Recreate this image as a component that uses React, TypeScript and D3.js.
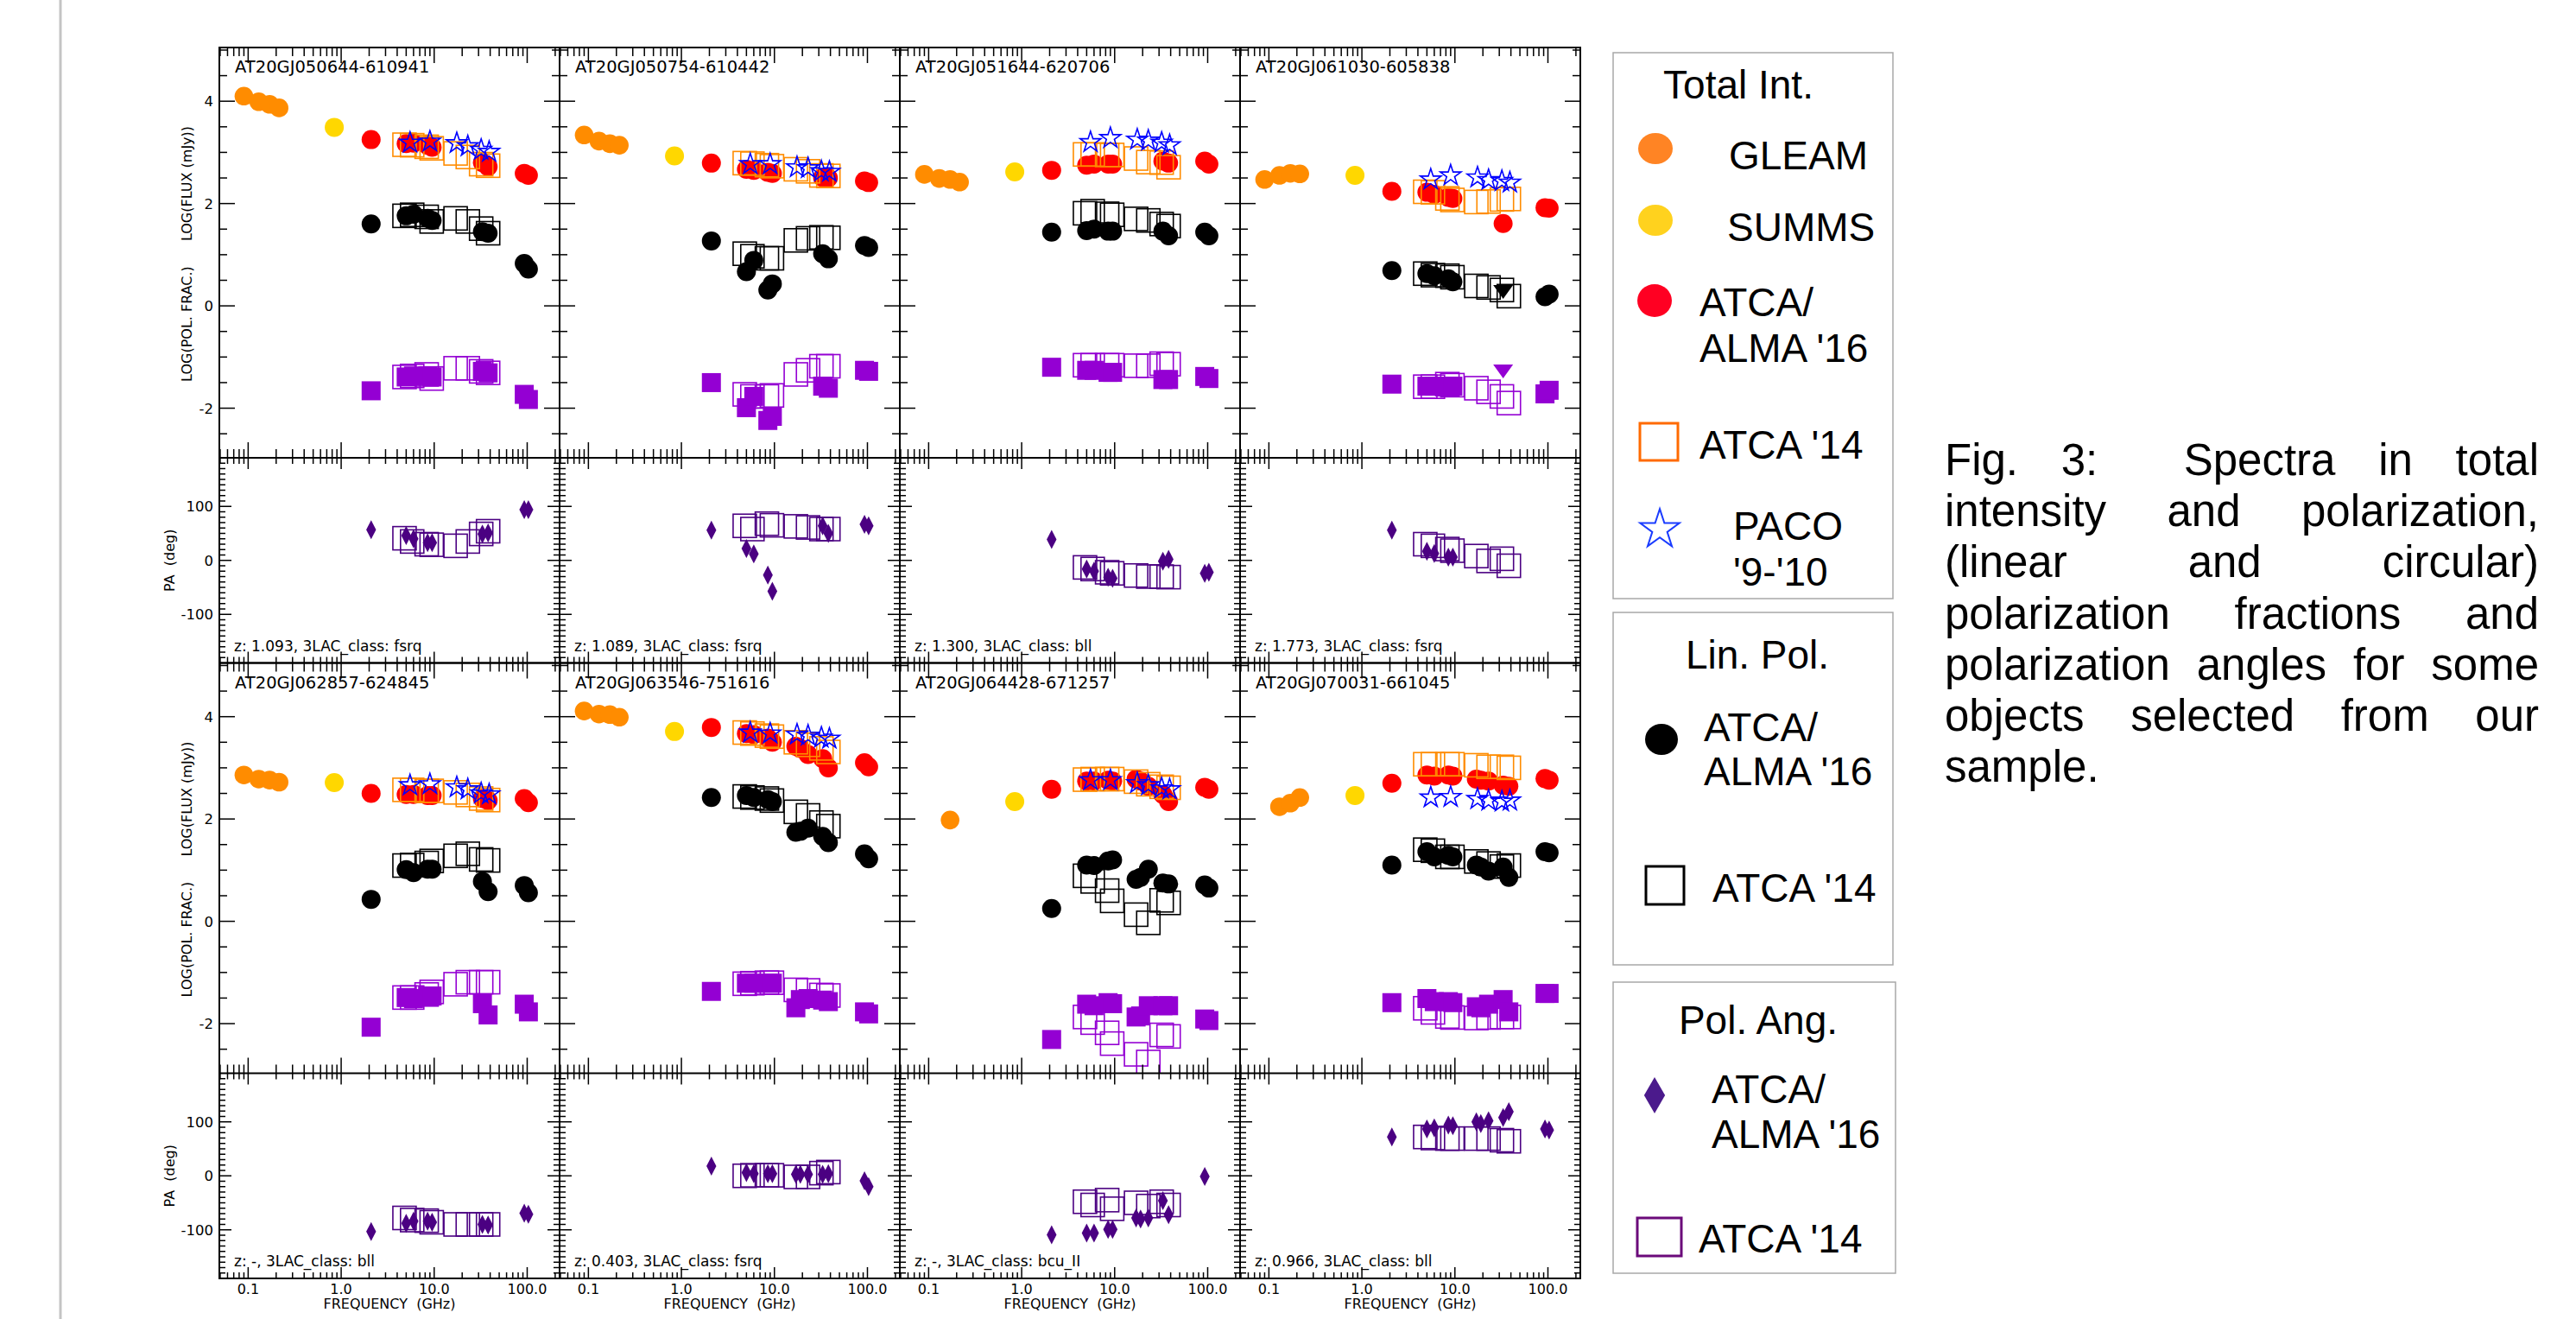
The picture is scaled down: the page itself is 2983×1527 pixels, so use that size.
import React from "react";
import * as d3 from "d3";

const W = 2983, H = 1527;

// ---------- DATA ----------
const sources = [
  "AT20GJ050644-610941", "AT20GJ050754-610442", "AT20GJ051644-620706", "AT20GJ061030-605838",
  "AT20GJ062857-624845", "AT20GJ063546-751616", "AT20GJ064428-671257", "AT20GJ070031-661045",
];
const infoLines = [
  "z: 1.093, 3LAC_class: fsrq", "z: 1.089, 3LAC_class: fsrq", "z: 1.300, 3LAC_class: bll", "z: 1.773, 3LAC_class: fsrq",
  "z: -, 3LAC_class: bll", "z: 0.403, 3LAC_class: fsrq", "z: -, 3LAC_class: bcu_II", "z: 0.966, 3LAC_class: bll",
];

// frequencies (GHz)
const fGLEAM = [0.09, 0.13, 0.17, 0.215];
const fSUMMS = 0.843;
const fATCA16 = [2.1, 5.0, 6.0, 8.5, 9.5, 17, 19, 23, 33, 38, 93, 103];
const fATCA14 = [4.8, 5.8, 8.3, 9.4, 17, 23, 32, 38];
const fPACO = [5.5, 9.0, 17.5, 23, 32, 39];
const fLimit = 33;

const N = null;
// total intensity, log(mJy)
const gleam = [
  [4.10, 3.99, 3.94, 3.87], [3.34, 3.22, 3.17, 3.14], [2.57, 2.49, 2.47, 2.42], [2.47, 2.55, 2.59, 2.58],
  [2.86, 2.78, 2.76, 2.72], [4.11, 4.05, 4.04, 3.99], [N, N, 1.98, N], [N, 2.24, 2.31, 2.42],
];
const summs = [3.49, 2.93, 2.62, 2.55, 2.71, 3.71, 2.34, 2.46];
const flux16 = [
  [3.25, 3.17, 3.18, 3.14, 3.10, N, N, N, 2.80, 2.72, 2.59, 2.55],
  [2.79, 2.67, 2.65, 2.61, 2.59, N, N, N, 2.51, 2.50, 2.44, 2.41],
  [2.65, 2.75, 2.77, 2.77, 2.77, N, N, N, 2.83, 2.79, 2.83, 2.77],
  [2.24, 2.22, 2.18, 2.12, 2.10, N, N, N, 1.61, N, 1.92, 1.91],
  [2.50, 2.48, 2.48, 2.46, 2.46, N, N, N, 2.40, 2.36, 2.40, 2.32],
  [3.79, 3.67, 3.65, 3.58, 3.50, 3.42, 3.38, 3.26, 3.18, 3.00, 3.10, 3.02],
  [2.58, 2.74, 2.74, 2.76, 2.74, 2.78, 2.74, 2.64, 2.48, 2.34, 2.62, 2.58],
  [2.70, 2.86, 2.84, 2.86, 2.84, 2.78, 2.76, 2.74, 2.66, 2.64, 2.79, 2.76],
];
const flux14 = [
  [3.15, 3.14, 3.11, 3.08, 2.98, 2.91, 2.77, 2.74],
  [2.79, 2.78, 2.75, 2.73, 2.67, 2.63, 2.55, 2.54],
  [2.96, 2.96, 2.95, 2.95, 2.88, 2.81, 2.80, 2.71],
  [2.23, 2.22, 2.10, 2.07, 2.03, 2.04, 2.08, 2.09],
  [2.57, 2.57, 2.55, 2.55, 2.52, 2.47, 2.40, 2.37],
  [3.69, 3.67, 3.63, 3.61, 3.50, 3.45, 3.38, 3.31],
  [2.77, 2.78, 2.78, 2.78, 2.73, 2.68, 2.63, 2.61],
  [3.07, 3.07, 3.07, 3.07, 3.05, 3.02, 3.02, 3.00],
];
const paco = [
  [3.19, 3.21, 3.18, 3.12, 3.05, 3.01],
  [2.77, 2.77, 2.71, 2.69, 2.63, 2.62],
  [3.20, 3.28, 3.25, 3.23, 3.19, 3.14],
  [2.47, 2.55, 2.51, 2.46, 2.44, 2.41],
  [2.66, 2.68, 2.62, 2.58, 2.50, 2.48],
  [3.69, 3.67, 3.65, 3.63, 3.59, 3.57],
  [2.76, 2.76, 2.70, 2.66, 2.60, 2.58],
  [2.42, 2.43, 2.39, 2.36, 2.34, 2.36],
];
// linear polarization fraction (log)
const lin16 = [
  [1.60, 1.76, 1.79, 1.71, 1.67, N, N, N, 1.45, 1.42, 0.83, 0.72],
  [1.27, 0.67, 0.89, 0.31, 0.43, N, N, N, 1.02, 0.92, 1.18, 1.14],
  [1.44, 1.47, 1.50, 1.46, 1.46, N, N, N, 1.46, 1.37, 1.44, 1.37],
  [0.69, 0.63, 0.59, 0.53, 0.47, N, N, N, N, N, 0.18, 0.23],
  [0.43, 1.01, 0.95, 1.02, 1.02, N, N, N, 0.78, 0.58, 0.70, 0.56],
  [2.42, 2.46, 2.42, 2.38, 2.34, 1.74, 1.76, 1.82, 1.66, 1.54, 1.32, 1.22],
  [0.25, 1.10, 1.09, 1.18, 1.20, 0.82, 0.86, 1.02, 0.75, 0.73, 0.71, 0.65],
  [1.10, 1.36, 1.26, 1.29, 1.26, 1.10, 1.06, 0.98, 1.06, 0.86, 1.36, 1.34],
];
const lin14 = [
  [1.76, 1.78, 1.74, 1.65, 1.71, 1.65, 1.51, 1.42],
  [1.02, 0.97, 0.93, 0.93, 1.28, 1.32, 1.34, 1.33],
  [1.81, 1.85, 1.80, 1.78, 1.70, 1.67, 1.60, 1.56],
  [0.63, 0.60, 0.59, 0.56, 0.39, 0.36, 0.31, 0.19],
  [1.09, 1.10, 1.14, 1.18, 1.28, 1.32, 1.21, 1.19],
  [2.44, 2.42, 2.40, 2.36, 2.14, 2.07, 1.93, 1.86],
  [0.89, 0.78, 0.60, 0.40, 0.13, -0.03, 0.41, 0.36],
  [1.40, 1.38, 1.26, 1.26, 1.17, 1.13, 1.07, 1.09],
];
// circular polarization fraction (log)
const circ16 = [
  [-1.66, -1.39, -1.37, -1.37, -1.39, N, N, N, -1.28, -1.31, -1.73, -1.83],
  [-1.50, -1.99, -1.77, -2.24, -2.16, N, N, N, -1.57, -1.61, -1.26, -1.28],
  [-1.20, -1.26, -1.26, -1.30, -1.30, N, N, N, -1.44, -1.44, -1.38, -1.42],
  [-1.53, -1.57, -1.57, -1.57, -1.57, N, N, N, N, N, -1.72, -1.65],
  [-2.07, -1.49, -1.51, -1.46, -1.46, N, N, N, -1.61, -1.83, -1.62, -1.77],
  [-1.37, -1.21, -1.21, -1.21, -1.21, -1.69, -1.53, -1.51, -1.54, -1.57, -1.77, -1.81],
  [-2.31, -1.62, -1.65, -1.59, -1.61, -1.87, -1.85, -1.65, -1.65, -1.65, -1.91, -1.94],
  [-1.59, -1.51, -1.57, -1.57, -1.59, -1.67, -1.69, -1.62, -1.53, -1.77, -1.41, -1.41],
];
const circ14 = [
  [-1.39, -1.37, -1.34, -1.42, -1.22, -1.22, -1.28, -1.31],
  [-1.73, -1.77, -1.77, -1.75, -1.34, -1.26, -1.18, -1.18],
  [-1.16, -1.16, -1.16, -1.16, -1.17, -1.17, -1.13, -1.14],
  [-1.58, -1.58, -1.53, -1.55, -1.61, -1.68, -1.77, -1.90],
  [-1.49, -1.49, -1.43, -1.38, -1.23, -1.19, -1.19, -1.19],
  [-1.22, -1.21, -1.20, -1.20, -1.34, -1.35, -1.44, -1.45],
  [-1.87, -1.98, -2.18, -2.39, -2.60, -2.75, -2.22, -2.25],
  [-1.70, -1.78, -1.86, -1.88, -1.89, -1.88, -1.87, -1.87],
];
// upper limits (one per panel, at fLimit)
const linLimit = [N, N, N, 0.27, N, N, N, N];
const circLimit = [N, N, N, -1.28, N, N, N, N];
// polarization angle (deg)
const pa16 = [
  [57, 46, 40, 33, 33, N, N, N, 49, 51, 94, 94],
  [56, 22, 12, -27, -57, N, N, N, 64, 50, 67, 64],
  [39, -16, -20, -31, -33, N, N, N, -1.5, 2, -24, -22],
  [56, 17, 13, 6, 6, N, N, N, N, N, N, N],
  [-103, -88, -84, -84, -86, N, N, N, -90, -91, -69, -71],
  [18, 6, 4, 4, 4, 3, 3, 3, 3, 4, -9, -20],
  [-109, -106, -106, -99, -99, -78, -80, -78, -46, -72, -1, N],
  [72, 87, 89, 94, 93, 100, 97, 102, 108, 119, 87, 85],
];
const pa14 = [
  [41, 35, 30, 29, 27, 35, 49, 54],
  [64, 58, 68, 65, 63, 61, 58, 58],
  [-13, -16, -22, -24, -28, -30, -30, -31],
  [30, 27, 21, 18, 8, -1, 3, -10],
  [-78, -82, -83, -86, -90, -90, -90, -90],
  [0, 1, 1, 1, -2, -2, 5, 7],
  [-48, -54, -45, -61, -50, -56, -48, -54],
  [72, 70, 69, 69, 69, 69, 66, 64],
];

// axes
const xDomain = [0.049, 223];
const fluxDomain = [-2.97, 5.05];
const paDomain = [-190, 190];
const xLabelVals = [0.1, 1, 10, 100];
const xLabelText = ["0.1", "1.0", "10.0", "100.0"];
const fluxLabelVals = [-2, 0, 2, 4];
const paLabelVals = [-100, 0, 100];

const captionLines = [
  "Fig. 3:  Spectra in total",
  "intensity and polarization,",
  "(linear and circular)",
  "polarization fractions and",
  "polarization angles for some",
  "objects selected from our",
  "sample.",
];

// ---------- LAYOUT ----------
const X0 = 254, COL_W = 394;
const Y0 = 55, FLUX_H = 475, PA_H = 237.5, ROW_H = FLUX_H + PA_H;
const FONT = "'DejaVu Sans', sans-serif";
const SANS = "'Liberation Sans', Arial, sans-serif";

const C = {
  gleam: "#ff8c00", summs: "#ffd700", red: "#ff0000", orange: "#ff8c00", blue: "#0000ff",
  purple: "#9400d3", pa: "#4b0082",
};

type P = [number, number];
const pts = (fs: number[], vs: (number | null)[]): P[] =>
  fs.map((f, i) => [f, vs[i]] as [number, number | null]).filter((d) => d[1] != null) as P[];

const starPath = d3.symbol(d3.symbolStar, 180)() as string;
const diamondPath = "M0,-11L5.7,0L0,11L-5.7,0Z";
const triPath = "M-11.5,-8L11.5,-8L0,8Z";

function Panel({ idx }: { idx: number }) {
  const c = idx % 4, r = Math.floor(idx / 4);
  const x0 = X0 + c * COL_W, x1 = x0 + COL_W;
  const yTop = Y0 + r * ROW_H, yMid = yTop + FLUX_H, yBot = yMid + PA_H;
  const x = d3.scaleLog().domain(xDomain).range([x0, x1]);
  const yF = d3.scaleLinear().domain(fluxDomain).range([yMid, yTop]);
  const yP = d3.scaleLinear().domain(paDomain).range([yBot, yMid]);

  const xt = x.ticks().filter((v) => v >= xDomain[0] && v <= xDomain[1]);
  const isMajorX = (v: number) => Math.abs(Math.log10(v) - Math.round(Math.log10(v))) < 1e-9;
  const fluxTicks = d3.range(-2.5, 5.01, 0.5).filter((v) => v >= fluxDomain[0] && v <= fluxDomain[1]);
  const paTicks = d3.range(-180, 181, 10);

  const ticks: React.ReactNode[] = [];
  const L = (k: string, a: number, b: number, cc: number, d: number) =>
    ticks.push(<line key={k} x1={a} y1={b} x2={cc} y2={d} />);
  xt.forEach((v, i) => {
    const px = x(v), maj = isMajorX(v);
    const fl = maj ? 18 : 10, pl = maj ? 13 : 7;
    L(`ft${i}`, px, yTop, px, yTop + fl);
    L(`fb${i}`, px, yMid, px, yMid - fl);
    L(`pt${i}`, px, yMid, px, yMid + pl);
    L(`pb${i}`, px, yBot, px, yBot - pl);
  });
  fluxTicks.forEach((v, i) => {
    const py = yF(v), maj = fluxLabelVals.includes(v);
    const l = maj ? 18 : 9;
    L(`fl${i}`, x0, py, x0 + l, py);
    L(`fr${i}`, x1, py, x1 - l, py);
  });
  paTicks.forEach((v, i) => {
    const py = yP(v), maj = paLabelVals.includes(v);
    const l = maj ? 14 : 7;
    L(`pl${i}`, x0, py, x0 + l, py);
    L(`pr${i}`, x1, py, x1 - l, py);
  });

  const sq = (k: string, f: number, v: number, ys: any, s: number, stroke: string, fill = "none", sw = 1.6) => (
    <rect key={k} x={x(f) - s / 2} y={ys(v) - s / 2} width={s} height={s} fill={fill} stroke={stroke} strokeWidth={sw} />
  );

  return (
    <g>
      <defs>
        <clipPath id={`cf${idx}`}><rect x={x0} y={yTop} width={COL_W} height={FLUX_H} /></clipPath>
        <clipPath id={`cp${idx}`}><rect x={x0} y={yMid} width={COL_W} height={PA_H} /></clipPath>
      </defs>
      <g clipPath={`url(#cf${idx})`}>
        {pts(fGLEAM, gleam[idx]).map(([f, v], i) => <circle key={`g${i}`} cx={x(f)} cy={yF(v)} r={10.8} fill={C.gleam} />)}
        <circle cx={x(fSUMMS)} cy={yF(summs[idx])} r={11} fill={C.summs} />
        {pts(fATCA16, flux16[idx]).map(([f, v], i) => <circle key={`r${i}`} cx={x(f)} cy={yF(v)} r={11} fill={C.red} />)}
        {pts(fATCA14, flux14[idx]).map(([f, v], i) => sq(`o${i}`, f, v, yF, 27, C.orange))}
        {pts(fPACO, paco[idx]).map(([f, v], i) => (
          <path key={`s${i}`} d={starPath} transform={`translate(${x(f)},${yF(v)})`} fill="none" stroke={C.blue} strokeWidth={1.6} />
        ))}
        {pts(fATCA14, lin14[idx]).map(([f, v], i) => sq(`k${i}`, f, v, yF, 27, "#000"))}
        {pts(fATCA16, lin16[idx]).map(([f, v], i) => <circle key={`b${i}`} cx={x(f)} cy={yF(v)} r={11} fill="#000" />)}
        {linLimit[idx] != null && <path d={triPath} transform={`translate(${x(fLimit)},${yF(linLimit[idx] as number)})`} fill="#000" />}
        {pts(fATCA14, circ14[idx]).map(([f, v], i) => sq(`q${i}`, f, v, yF, 27, C.purple))}
        {pts(fATCA16, circ16[idx]).map(([f, v], i) => sq(`Q${i}`, f, v, yF, 22, "none", C.purple, 0))}
        {circLimit[idx] != null && <path d={triPath} transform={`translate(${x(fLimit)},${yF(circLimit[idx] as number)})`} fill={C.purple} />}
      </g>
      <g clipPath={`url(#cp${idx})`}>
        {pts(fATCA14, pa14[idx]).map(([f, v], i) => sq(`a${i}`, f, v, yP, 27, C.pa))}
        {pts(fATCA16, pa16[idx]).map(([f, v], i) => (
          <path key={`d${i}`} d={diamondPath} transform={`translate(${x(f)},${yP(v)})`} fill={C.pa} />
        ))}
      </g>
      <g stroke="#000" strokeWidth={1.5}>{ticks}</g>
      <rect x={x0} y={yTop} width={COL_W} height={FLUX_H + PA_H} fill="none" stroke="#000" strokeWidth={2} />
      <line x1={x0} x2={x1} y1={yMid} y2={yMid} stroke="#000" strokeWidth={2} />
      <text x={x0 + 18} y={yTop + 29} fontFamily={FONT} fontSize={19.5} fill="#000">{sources[idx]}</text>
      <text x={x0 + 17} y={yBot - 14} fontFamily={FONT} fontSize={17} fill="#000">{infoLines[idx]}</text>
      {c === 0 && (
        <g fontFamily={FONT} fill="#000">
          {fluxLabelVals.map((v) => (
            <text key={`fy${v}`} x={x0 - 7} y={yF(v) + 6} fontSize={16.5} textAnchor="end">{v}</text>
          ))}
          {paLabelVals.map((v) => (
            <text key={`py${v}`} x={x0 - 7} y={yP(v) + 6} fontSize={16.5} textAnchor="end">{v}</text>
          ))}
          <text transform={`translate(222,${yTop + 157.5}) rotate(-90)`} fontSize={16} textAnchor="middle">LOG(FLUX (mJy))</text>
          <text transform={`translate(222,${yTop + 320}) rotate(-90)`} fontSize={16} textAnchor="middle">LOG(POL. FRAC.)</text>
          <text transform={`translate(202,${yP(0)}) rotate(-90)`} fontSize={16} textAnchor="middle" style={{ whiteSpace: "pre" }}>PA  (deg)</text>
        </g>
      )}
      {r === 1 && (
        <g fontFamily={FONT} fill="#000" fontSize={16}>
          {xLabelVals.map((v, i) => (
            <text key={`xl${i}`} x={x(v)} y={yBot + 18} textAnchor="middle">{xLabelText[i]}</text>
          ))}
          <text x={(x0 + x1) / 2} y={yBot + 35} textAnchor="middle" style={{ whiteSpace: "pre" }}>FREQUENCY  (GHz)</text>
        </g>
      )}
    </g>
  );
}

function Legend() {
  const fs = 46;
  const T = (x: number, y: number, s: string, anchor = "start") => (
    <text x={x} y={y} fontFamily={SANS} fontSize={fs} textAnchor={anchor as any} fill="#000">{s}</text>
  );
  return (
    <g>
      <rect x={1868} y={61} width={324} height={632} fill="none" stroke="#a8a8a8" strokeWidth={1.5} />
      {T(2013, 114, "Total Int.", "middle")}
      <ellipse cx={1917} cy={172} rx={20} ry={18} fill="#ff8424" />
      {T(2002, 196, "GLEAM")}
      <ellipse cx={1917} cy={255} rx={20} ry={18} fill="#ffd21e" />
      {T(2000, 279, "SUMMS")}
      <ellipse cx={1916} cy={348} rx={20} ry={19} fill="#ff0022" />
      {T(1968, 366, "ATCA/")}
      {T(1968, 419, "ALMA '16")}
      <rect x={1899} y={490} width={44} height={43} fill="none" stroke="#ff6a00" strokeWidth={3} />
      {T(1968, 531, "ATCA '14")}
      <path d={d3.symbol(d3.symbolStar, 640)() as string} transform="translate(1922,613)" fill="none" stroke="#1a3cff" strokeWidth={2} />
      {T(2007, 625, "PACO")}
      {T(2007, 678, "'9-'10")}

      <rect x={1868} y={709} width={324} height={408} fill="none" stroke="#a8a8a8" strokeWidth={1.5} />
      {T(2035, 774, "Lin. Pol.", "middle")}
      <ellipse cx={1924} cy={856} rx={19} ry={18} fill="#000" />
      {T(1973, 858, "ATCA/")}
      {T(1973, 909, "ALMA '16")}
      <rect x={1906} y={1003} width={44} height={44} fill="none" stroke="#000" strokeWidth={3} />
      {T(1983, 1044, "ATCA '14")}

      <rect x={1868} y={1137} width={327} height={337} fill="none" stroke="#a8a8a8" strokeWidth={1.5} />
      {T(2036, 1197, "Pol. Ang.", "middle")}
      <path d={d3.symbol(d3.symbolDiamond, 509)() as string} transform="translate(1916,1268)" fill="#4b1a8c" />
      {T(1982, 1277, "ATCA/")}
      {T(1982, 1329, "ALMA '16")}
      <rect x={1896} y={1410} width={51} height={44} fill="none" stroke="#6b0a7a" strokeWidth={3} />
      {T(1967, 1450, "ATCA '14")}
    </g>
  );
}

let _ctx: CanvasRenderingContext2D | null = null;
function measure(s: string, font: string) {
  if (typeof document === "undefined") return s.length * 25;
  if (!_ctx) _ctx = document.createElement("canvas").getContext("2d");
  if (!_ctx) return s.length * 25;
  _ctx.font = font;
  return _ctx.measureText(s).width;
}

function Caption() {
  const fs = 51, left = 2252, right = 2940, base = 550, lh = 59.2;
  const font = `${fs}px "Liberation Sans", Arial, sans-serif`;
  return (
    <g fontFamily={SANS} fontSize={fs} fill="#000">
      {captionLines.map((line, li) => {
        const toks = line.split(" ");
        const words: string[] = [];
        const gaps: number[] = [];
        let pending = 0;
        toks.forEach((t) => {
          if (t === "") { pending += 1; return; }
          if (words.length) gaps.push(pending + 1);
          words.push(t);
          pending = 0;
        });
        const y = base + li * lh;
        const last = li === captionLines.length - 1;
        const widths = words.map((w) => measure(w, font));
        const total = d3.sum(widths);
        const gw = d3.sum(gaps);
        const unit = last || gw === 0 ? measure(" ", font) : (right - left - total) / gw;
        let cx = left;
        return words.map((w, wi) => {
          const el = <text key={`${li}-${wi}`} x={cx} y={y}>{w}</text>;
          cx += widths[wi] + (wi < gaps.length ? gaps[wi] * unit : 0);
          return el;
        });
      })}
    </g>
  );
}

export default function App() {
  return (
    <svg width={W} height={H} viewBox={`0 0 ${W} ${H}`} style={{ position: "absolute", left: 0, top: 0, display: "block" }}>
      <rect width={W} height={H} fill="#fff" />
      <line x1={70} x2={70} y1={0} y2={H} stroke="#c4c4c4" strokeWidth={3} />
      {sources.map((_, i) => <Panel key={i} idx={i} />)}
      <Legend />
      <Caption />
    </svg>
  );
}
